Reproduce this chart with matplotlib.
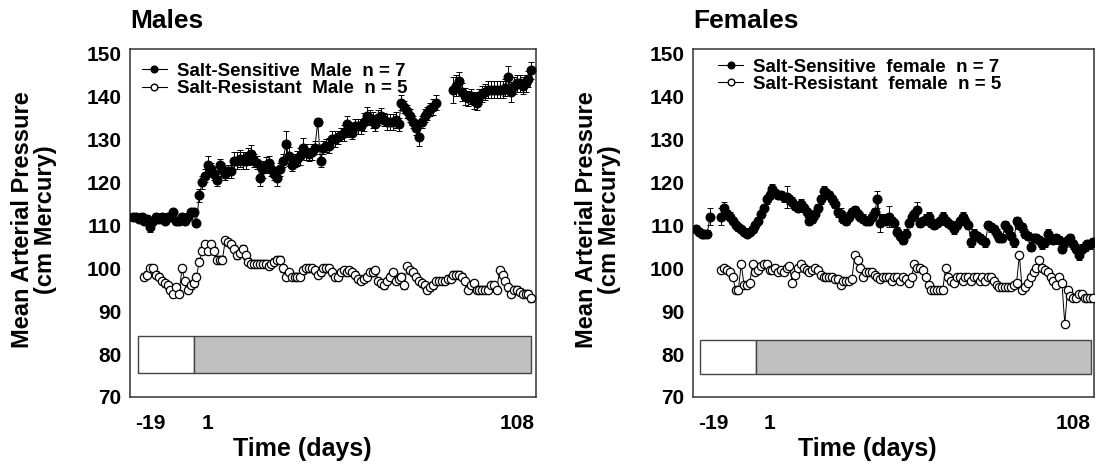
import numpy as np
import matplotlib
matplotlib.use("Agg")
import matplotlib.pyplot as plt
from matplotlib.patches import Rectangle
from matplotlib.lines import Line2D

plt.rcParams["font.family"] = ["Liberation Sans", "DejaVu Sans"]
plt.rcParams["font.weight"] = "bold"

nan = np.nan

# ---- Males ----
male_ss_days = list(range(-25, 114))
male_ss = [
    112, 112, 111.5, 112, 111, 111.5, 109.5, 111, 112, 111.5,
    112, 111, 112, 112, 113, 111, 111, 112, 111, 112,
    113, 113, 110.5, 117, 120, 121.5, 124, 123, 122, 120.5,
    124, 123, 122, 122.5, 122.5, 125, 125, 125.5, 125, 125,
    126, 126.5, 125, 124.5, 121, 123, 124, 124.5, 123, 122,
    121, 123, 125, 129, 126, 124, 125, 125.5, 126, 128,
    127, 126.5, 127, 128, 134, 125, 128, 128.5, 128.5, 130,
    130, 130.5, 131, 131.5, 133.5, 132, 131.5, 133, 133, 133,
    134, 135.5, 135, 134.5, 133.5, 135, 135.5, 134.5, 134, 134,
    134, 134.5, 133.5, 138.5, 137.5, 136.5, 135.5, 134, 132.5, 130.5,
    134, 135.5, 136, 137, 137.5, 138.5, nan, nan, nan, nan,
    nan, 141.5, 142.5, 143.5, 141, 140, 139.5, 140, 139, 138.5,
    140, 140.5, 141, 141.5, 141.5, 141.5, 141.5, 141.5, 141.5, 142,
    144.5, 141, 142.5, 143, 143, 142.5, 143, 144, 146,
]
male_ss_sem = [
    0.8, 0.8, 0.8, 0.8, 0.8, 0.8, 1.2, 0.8, 0.8, 0.8,
    0.8, 0.8, 0.8, 0.8, 0.8, 0.8, 0.8, 0.8, 0.8, 0.8,
    0.8, 0.8, 0.8, 1.5, 1.5, 1.5, 2.2, 1.5, 1.5, 1.5,
    1.5, 1.5, 1.5, 1.5, 1.5, 2, 2, 2, 2, 2,
    2, 2.2, 1.5, 1.5, 1.8, 2, 1.8, 1.5, 1.5, 1.5,
    1.8, 1.5, 1.5, 3, 2.2, 1.5, 1.5, 1.8, 2, 2.2,
    1.8, 1.5, 1.8, 1.5, 1, 1.5, 1.5, 1.5, 1.8, 1.8,
    1.8, 1.5, 1.5, 1.8, 1.8, 1.5, 1.5, 1.8, 1.8, 1.8,
    2, 2, 1.8, 1.8, 1.5, 1.8, 1.8, 1.5, 1.8, 1.8,
    1.8, 1.8, 1.5, 1.8, 1.5, 1.5, 1.5, 1.5, 1.5, 2,
    1.5, 1.5, 1.5, 1.5, 1.8, 1.8, 0, 0, 0, 0,
    0, 3, 2.5, 2.2, 2, 2, 1.8, 1.8, 2, 1.8,
    1.8, 1.8, 1.8, 2, 2, 2, 2, 2, 2, 2,
    2.5, 2.3, 2, 2, 2, 2, 2, 1.8, 2,
]
male_sr_days = list(range(-21, 114))
male_sr = [
    98, 98.5, 100, 100, 98.5, 98, 97, 96.5, 96, 95,
    94, 95.5, 94, 100, 97, 95, 96, 96.5, 98, 101.5,
    104, 105.5, 104, 105.5, 104, 102, 102, 102, 106.5, 106,
    105.5, 104.5, 103, 103.5, 104.5, 103, 101.5, 101, 101, 101,
    101, 101, 101, 100.5, 101, 101.5, 102, 102, 100, 98,
    99, 98, 98, 98, 98, 99.5, 100, 100, 100, 99.5,
    98.5, 99, 100, 100, 100, 99, 98, 98, 99, 99.5,
    99, 99.5, 99, 98.5, 97.5, 97, 97.5, 98, 99, 99,
    99.5, 97, 96.5, 96, 97, 98, 99, 97, 97.5, 98,
    96, 100.5, 99.5, 99, 98, 97, 96.5, 96, 95, 95.5,
    96, 97, 97, 97, 97, 97.5, 97.5, 98.5, 98.5, 98.5,
    98, 97, 95, 96, 96.5, 95, 95, 95, 95, 95,
    96, 96, 95, 99.5, 98.5, 97, 95.5, 94, 95, 95,
    94.5, 94, 94, 94, 93,
]
male_sr_sem = 0.8

# ---- Females ----
female_ss_days = list(range(-25, 116))
female_ss = [
    109, 108.5, 108, 108, 108, 112, nan, nan, nan, 112,
    114, 112.5, 112, 111, 110, 109.5, 109, 108.5, 108, 108.5,
    109, 110, 111, 112.5, 114, 116, 117, 118.5, 117.5, 117,
    117, 116.5, 116.5, 116, 115.5, 114.5, 114, 115, 114, 113,
    111, 111.5, 112.5, 114, 116, 118, 117.5, 117, 116, 115,
    113, 112.5, 111.5, 111, 112, 113, 113.5, 112.5, 112, 111.5,
    111, 111, 112, 113, 116, 110.5, 111.5, 111, 112, 111,
    110.5, 108.5, 107.5, 106.5, 108, 110.5, 112, 112.5, 113.5, 110.5,
    111, 111.5, 112, 110.5, 110, 110.5, 111, 112, 111, 110.5,
    110, 109, 110, 111, 112, 111, 110, 106, 108, 107.5,
    107, 106.5, 106, 110, 109.5, 109, 108, 107, 107, 110,
    109, 107.5, 106, 111, 110, 109.5, 108, 107.5, 105, 107,
    107, 106.5, 105.5, 106, 108, 107, 106.5, 107, 106.5, 104.5,
    106, 106.5, 107, 105.5, 104.5, 103, 104.5, 105, 105.5, 105.5,
    106,
]
female_ss_sem = [
    0.8, 0.8, 0.8, 0.8, 0.8, 2, 0, 0, 0, 2,
    1.5, 1, 1, 0.8, 0.8, 0.8, 0.8, 0.8, 0.8, 0.8,
    0.8, 0.8, 0.8, 0.8, 0.8, 1, 1, 1, 1, 1,
    1, 1, 2.5, 1, 1, 1, 1, 1, 1, 1,
    1, 1, 1, 1, 1, 1, 1, 1, 1, 1,
    1, 1.5, 1, 1, 1, 1, 1, 1, 1, 1,
    1, 1, 1, 1, 2, 2.2, 1, 1, 2.5, 1,
    1, 1, 1, 1, 1, 1, 1, 1, 1.8, 1,
    1, 1, 1, 1, 1, 1, 1, 1, 1, 1,
    1, 1, 1, 1, 1, 1, 1, 1, 1, 1,
    1, 1, 1, 1, 1, 1, 1, 1, 1, 1,
    1, 1, 1, 1, 1, 1, 1, 1, 1, 1,
    1, 1, 1, 1, 1, 1, 1, 1, 1, 1,
    1, 1, 1, 1, 1, 1, 1, 1, 1, 1,
    1,
]
female_sr_days = list(range(-16, 116))
female_sr = [
    99.5, 100, 99.5, 99, 98, 95, 95, 101, 96, 96,
    96.5, 101, 99, 99.5, 100.5, 101, 101, 99.5, 99.5, 100,
    99, 99.5, 99, 100, 100.5, 96.5, 98.5, 100, 101, 100,
    99.5, 99, 99.5, 100, 99.5, 98.5, 98, 98, 98, 98,
    97.5, 97.5, 96, 97, 97, 97, 97.5, 103, 102, 100,
    98, 99, 99, 99, 98.5, 98, 97.5, 98, 98, 98,
    97, 98, 98, 97, 98, 97.5, 96.5, 98, 101, 100,
    100, 99.5, 98, 96, 95, 95, 95, 95, 95, 100,
    98, 97, 96.5, 98, 98, 97, 98, 98, 97, 98,
    98, 97, 98, 97, 98, 98, 97, 96, 95.5, 95.5,
    95.5, 95.5, 95.5, 96, 96.5, 103, 95, 95.5, 96.5, 98,
    99, 100, 102, 100, 99.5, 99, 98, 97, 96, 98,
    96.5, 87, 95, 93.5, 93, 93, 94, 94, 93, 93,
    93, 93,
]
female_sr_sem = 0.7

y_ticks = [70, 80, 90, 100, 110, 120, 130, 140, 150]
x_ticks = [-19, 1, 108]
x_ticklabels = ["-19", "1", "108"]


def draw_panel(ax, title, ss, sr, labels, xlim, box_x, box_y, legend_xy, xlabel_x):
    # diet bar: white = baseline, gray = high salt
    ax.add_patch(Rectangle((box_x[0], box_y[0]), box_x[1] - box_x[0], box_y[1] - box_y[0],
                           facecolor="white", edgecolor="#444444", lw=1.0, zorder=1))
    ax.add_patch(Rectangle((box_x[1], box_y[0]), box_x[2] - box_x[1], box_y[1] - box_y[0],
                           facecolor="#c0c0c0", edgecolor="#444444", lw=1.0, zorder=1))

    ax.errorbar(sr[0], sr[1], yerr=sr[2], fmt="-o", color="black", lw=0.7,
                ms=6, mfc="white", mec="black", mew=0.9,
                elinewidth=0.7, capsize=2.2, capthick=0.7, zorder=3)
    ax.errorbar(ss[0], ss[1], yerr=ss[2], fmt="-o", color="black", lw=0.7,
                ms=6.2, mfc="black", mec="black",
                elinewidth=0.7, capsize=2.2, capthick=0.7, zorder=4)

    ax.set_xlim(*xlim)
    ax.set_ylim(70, 151)
    ax.set_yticks(y_ticks)
    ax.set_xticks(x_ticks)
    ax.set_xticklabels(x_ticklabels)
    ax.tick_params(axis="both", length=0, labelsize=15)
    ax.tick_params(axis="x", pad=12)
    ax.tick_params(axis="y", pad=6)
    for s in ax.spines.values():
        s.set_color("#333333")
        s.set_linewidth(1.1)

    ax.set_title(title, loc="left", fontsize=19, fontweight="bold", pad=15)
    ax.set_ylabel("Mean Arterial Pressure\n(cm Mercury)", fontsize=17, fontweight="bold",
                  linespacing=1.0)
    ax.yaxis.set_label_coords(-0.18, 0.51)
    ax.set_xlabel("Time (days)", fontsize=18, fontweight="bold")
    ax.xaxis.set_label_coords(xlabel_x, -0.115)

    handles = [
        Line2D([], [], color="black", lw=0.8, marker="o", ms=4.8, mfc="black", mec="black"),
        Line2D([], [], color="black", lw=0.8, marker="o", ms=4.8, mfc="white", mec="black"),
    ]
    ax.legend(handles, labels, loc="upper left", bbox_to_anchor=legend_xy, frameon=False,
              fontsize=13.5, handlelength=1.35, handletextpad=0.55, labelspacing=0.0,
              borderpad=0, borderaxespad=0)


fig = plt.figure(figsize=(10.96, 4.68), dpi=100)
ax_m = fig.add_axes([130 / 1096, 1 - 397 / 468, 406 / 1096, 348 / 468])
ax_f = fig.add_axes([693 / 1096, 1 - 397 / 468, 401 / 1096, 348 / 468])

draw_panel(ax_m, "Males",
           (male_ss_days, male_ss, male_ss_sem),
           (male_sr_days, male_sr, male_sr_sem),
           ["Salt-Sensitive  Male  n = 7", "Salt-Resistant  Male  n = 5"],
           (-26, 114.6), (-23.3, -3.8, 112.8), (75.7, 84.1), (0.029, 0.96), 0.424)
draw_panel(ax_f, "Females",
           (female_ss_days, female_ss, female_ss_sem),
           (female_sr_days, female_sr, female_sr_sem),
           ["Salt-Sensitive  female  n = 7", "Salt-Resistant  female  n = 5"],
           (-26, 115.3), (-23.6, -3.9, 114.2), (75.3, 83.3), (0.062, 0.972), 0.434)

fig.savefig("out.png", dpi=100)
